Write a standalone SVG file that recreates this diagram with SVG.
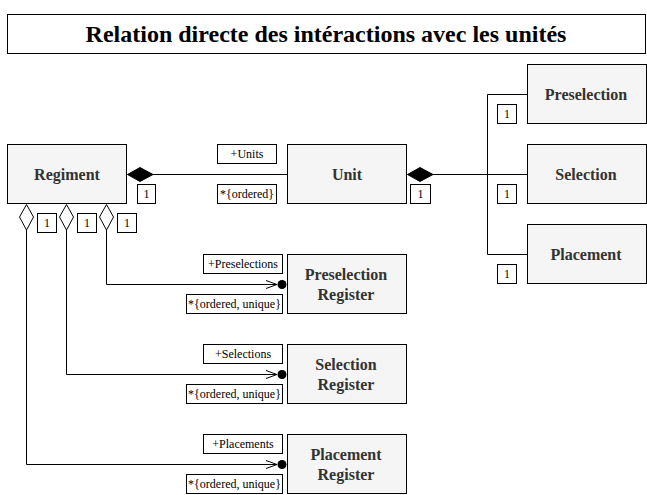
<svg xmlns="http://www.w3.org/2000/svg" width="647" height="495" viewBox="0 0 647 495">
<style>
.node{fill:#f5f5f5;stroke:#000;stroke-width:1}
.nt{font-family:'Liberation Serif','Times New Roman',serif;font-size:16px;font-weight:700;fill:#333;text-anchor:middle}
.lb{fill:#fff;stroke:#000;stroke-width:1}
.lt{font-family:'Liberation Serif','Times New Roman',serif;font-size:12px;fill:#000;text-anchor:middle}
.ttl{font-family:'Liberation Serif','Times New Roman',serif;font-size:24px;font-weight:700;fill:#000;text-anchor:middle}
.ln{fill:none;stroke:#000;stroke-width:1}
.fd{fill:#000;stroke:#000}
.hd{fill:#fff;stroke:#000}
</style>
<rect width="647" height="495" fill="#fff"/>
<g id="title">
<rect x="7.5" y="14.5" width="638" height="39" fill="#fff" stroke="#000"/>
<text class="ttl" x="326" y="42">Relation directe des intéractions avec les unités</text>
</g>
<g id="connectors">
<path class="ln" d="M153,174.5H287"/>
<path class="fd" d="M127.5,174.5L140,167.5L153,174.5L140,181.5Z"/>
<path class="ln" d="M433,174.5H487.5"/>
<path class="fd" d="M407.5,174.5L420,167.5L433,174.5L420,181.5Z"/>
<path class="ln" d="M527,94.5H487.5V254.5H527M487.5,174.5H527"/>
<path class="hd" d="M26.5,204.5L33.5,217L26.5,230L19.5,217Z"/>
<path class="hd" d="M66.5,204.5L73.5,217L66.5,230L59.5,217Z"/>
<path class="hd" d="M106.5,204.5L113.5,217L106.5,230L99.5,217Z"/>
<path class="ln" d="M106.5,230V284.5H277M266,280.5L277,284.5L266,288.5"/>
<path class="ln" d="M66.5,230V374.5H277M266,370.5L277,374.5L266,378.5"/>
<path class="ln" d="M26.5,230V464.5H277M266,460.5L277,464.5L266,468.5"/>
<circle cx="282" cy="284.5" r="4.5" fill="#000"/>
<circle cx="282" cy="374.5" r="4.5" fill="#000"/>
<circle cx="282" cy="464.5" r="4.5" fill="#000"/>
<rect class="lb" x="217.5" y="144.5" width="59" height="19"/><text class="lt" x="247" y="158">+Units</text>
<rect class="lb" x="217.5" y="184.5" width="59" height="19"/><text class="lt" x="247" y="198">*{ordered}</text>
<rect class="lb" x="137.5" y="184.5" width="18" height="19"/><text class="lt" x="146.5" y="198">1</text>
<rect class="lb" x="410.5" y="184.5" width="20" height="19"/><text class="lt" x="420.5" y="198">1</text>
<rect class="lb" x="497.5" y="104.5" width="19" height="19"/><text class="lt" x="507" y="118">1</text>
<rect class="lb" x="497.5" y="184.5" width="19" height="19"/><text class="lt" x="507" y="198">1</text>
<rect class="lb" x="497.5" y="264.5" width="19" height="19"/><text class="lt" x="507" y="278">1</text>
<rect class="lb" x="37.5" y="213.5" width="19" height="19"/><text class="lt" x="47" y="227">1</text>
<rect class="lb" x="77.5" y="213.5" width="19" height="19"/><text class="lt" x="87" y="227">1</text>
<rect class="lb" x="117.5" y="213.5" width="19" height="19"/><text class="lt" x="127" y="227">1</text>
<rect class="lb" x="203.5" y="254.5" width="79" height="19"/><text class="lt" x="243" y="268">+Preselections</text>
<rect class="lb" x="186.5" y="294.5" width="96" height="19"/><text class="lt" x="234.5" y="308">*{ordered, unique}</text>
<rect class="lb" x="203.5" y="344.5" width="79" height="19"/><text class="lt" x="243" y="358">+Selections</text>
<rect class="lb" x="186.5" y="384.5" width="96" height="19"/><text class="lt" x="234.5" y="398">*{ordered, unique}</text>
<rect class="lb" x="203.5" y="434.5" width="79" height="19"/><text class="lt" x="243" y="448">+Placements</text>
<rect class="lb" x="186.5" y="474.5" width="96" height="19"/><text class="lt" x="234.5" y="488">*{ordered, unique}</text>
</g>
<g id="regiment"><rect class="node" x="7.5" y="144.5" width="119" height="59"/><text class="nt" x="67" y="180">Regiment</text></g>
<g id="unit"><rect class="node" x="287.5" y="144.5" width="119" height="59"/><text class="nt" x="347" y="180">Unit</text></g>
<g id="preselection"><rect class="node" x="527.5" y="64.5" width="119" height="59"/><text class="nt" x="586" y="100">Preselection</text></g>
<g id="selection"><rect class="node" x="527.5" y="144.5" width="119" height="59"/><text class="nt" x="586" y="180">Selection</text></g>
<g id="placement"><rect class="node" x="527.5" y="224.5" width="119" height="59"/><text class="nt" x="586" y="260">Placement</text></g>
<g id="preselection-register"><rect class="node" x="287.5" y="254.5" width="119" height="59"/><text class="nt" x="346" y="280">Preselection</text><text class="nt" x="346" y="300">Register</text></g>
<g id="selection-register"><rect class="node" x="287.5" y="344.5" width="119" height="59"/><text class="nt" x="346" y="370">Selection</text><text class="nt" x="346" y="390">Register</text></g>
<g id="placement-register"><rect class="node" x="287.5" y="434.5" width="119" height="59"/><text class="nt" x="346" y="460">Placement</text><text class="nt" x="346" y="480">Register</text></g>
</svg>
